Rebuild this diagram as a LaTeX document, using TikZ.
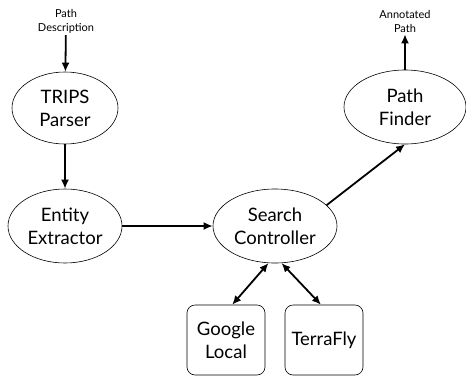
\documentclass[tikz,border=0pt]{standalone}
\usepackage{fontspec}
\setmainfont{Lato}
\usetikzlibrary{shapes.geometric,arrows.meta}
\tikzset{>={Latex[length=9pt,width=8pt]}}
\tikzset{ module/.style={draw,ellipse,line width=0.6pt,align=center,inner sep=0pt,font=\fontsize{18.5}{23}\selectfont},
  source/.style={draw,rounded corners=8pt,line width=0.6pt,align=center,inner sep=0pt,minimum width=78,minimum height=70,font=\fontsize{18.5}{23}\selectfont},
  io/.style={align=center,inner sep=2pt,font=\fontsize{11}{14}\selectfont},
  flow/.style={->,line width=1.8pt} }

\begin{document}
\begin{tikzpicture}[x=1pt,y=-1pt]
  \useasboundingbox (0,0) rectangle (466,378);
  \node[io] (desc) at (66,21) {Path\\Description};
  \node[io] (annot) at (405,21) {Annotated\\Path};
  \node[module,minimum width=106,minimum height=72] (parser) at (65,108) {TRIPS\\Parser};
  \node[module,minimum width=114,minimum height=74] (extractor) at (65,226) {Entity\\Extractor};
  \node[module,minimum width=124,minimum height=74] (controller) at (275,226) {Search\\Controller};
  \node[module,minimum width=122,minimum height=74] (finder) at (405,107) {Path\\Finder};
  \node[source] (google) at (226,340) {Google\\Local};
  \node[source] (terrafly) at (324,340) {TerraFly};
  \draw[flow] (desc) -- (parser);
  \draw[flow] (parser) -- (extractor);
  \draw[flow] (extractor) -- (controller);
  \draw[flow] (controller.22) -- (finder.south);
  \draw[flow] (finder) -- (annot);
  \draw[flow,<->] (google.80) -- (controller.-100);
  \draw[flow,<->] (terrafly.95) -- (controller.-80);
\end{tikzpicture}
\end{document}
